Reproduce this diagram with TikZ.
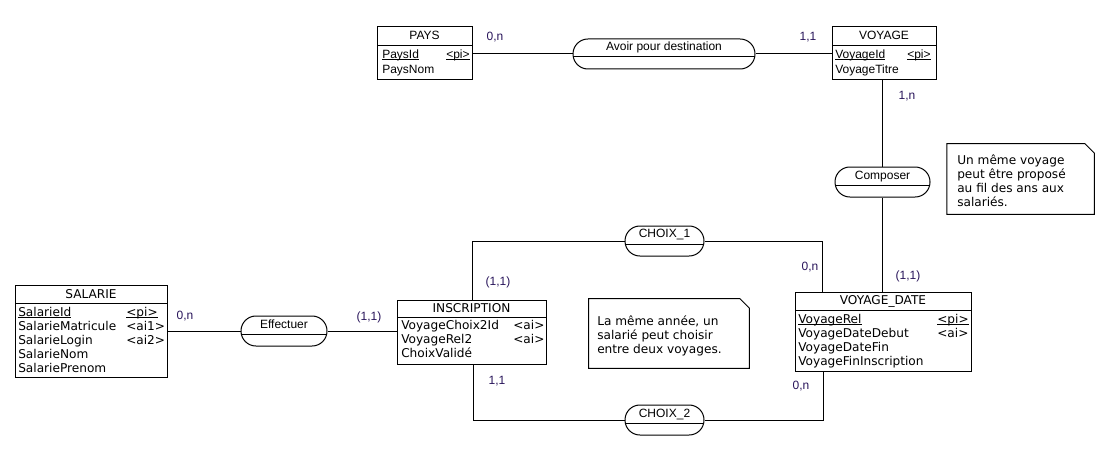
\documentclass[tikz,border=0pt]{standalone}
\usepackage{fontspec}
\setmainfont{Liberation Sans}
\newfontfamily\tah{DejaVu Sans}
\usetikzlibrary{fit}
\definecolor{card}{RGB}{40,20,90}
\newcommand\uln[1]{\setbox0\hbox{#1}\rlap{\rule[-1.4pt]{\wd0}{0.6pt}}\box0}
\tikzset{
  box/.style={draw, inner sep=0pt, line width=0.75pt},
  assoc/.style={draw, inner sep=0pt, line width=0.75pt, rounded corners=11.2pt},
  sep/.style={line width=0.75pt},
  link/.style={line width=0.75pt},
  ari/.style={font=\fontsize{9}{10.5}\selectfont, inner sep=0pt, text height=6.5pt, text depth=1.8pt},
  tho/.style={font=\tah\fontsize{9.1}{10.5}\selectfont, inner sep=0pt, text height=6.5pt, text depth=1.8pt},
  attA/.style={ari, anchor=west},
  attT/.style={tho, anchor=west},
  cardl/.style={ari, text=card},
  notetext/.style={font=\tah\fontsize{9.1}{10.5}\selectfont, inner sep=0pt, align=left, anchor=west},
}
\begin{document}
\begin{tikzpicture}[x=0.75pt,y=-0.75pt]
\useasboundingbox (0,0) rectangle (1119,456);

% ---------- Entities ----------
% PAYS
\node[box, fit={(377,27) (472,80)}] (pays) {};
\draw[sep] (377,46) -- (472,46);
\node[ari] (paysT) at (424.5,36) {PAYS};
\node[attA] (paysA1) at (382,55) {\uln{PaysId}};
\node[attA] (paysA1t) at (446,55) {\uln{<pi>}};
\node[attA] (paysA2) at (382,70) {PaysNom};

% VOYAGE
\node[box, fit={(832,27) (936,80)}] (voyage) {};
\draw[sep] (832,46) -- (936,46);
\node[ari] (voyT) at (884,36) {VOYAGE};
\node[attA] (voyA1) at (835,55) {\uln{VoyageId}};
\node[attA] (voyA1t) at (907,55) {\uln{<pi>}};
\node[attA] (voyA2) at (835,70) {VoyageTitre};

% SALARIE
\node[box, fit={(15,285) (167,377)}] (salarie) {};
\draw[sep] (15,303) -- (167,303);
\node[tho] (salT) at (91,295) {SALARIE};
\node[attT] (salA1) at (18,313) {\uln{SalarieId}};
\node[attT] (salA1t) at (126,313) {\uln{<pi>}};
\node[attT] (salA2) at (18,327) {SalarieMatricule};
\node[attT] (salA2t) at (126,327) {<ai1>};
\node[attT] (salA3) at (18,341) {SalarieLogin};
\node[attT] (salA3t) at (126,341) {<ai2>};
\node[attT] (salA4) at (18,355) {SalarieNom};
\node[attT] (salA5) at (18,369) {SalariePrenom};

% INSCRIPTION
\node[box, fit={(397,300) (546,364)}] (inscription) {};
\draw[sep] (397,317) -- (546,317);
\node[tho] (insT) at (471.5,309) {INSCRIPTION};
\node[attT] (insA1) at (401,326) {VoyageChoix2Id};
\node[attT] (insA1t) at (513,326) {<ai>};
\node[attT] (insA2) at (401,340) {VoyageRel2};
\node[attT] (insA2t) at (513,340) {<ai>};
\node[attT] (insA3) at (401,354) {ChoixValidé};

% VOYAGE_DATE
\node[box, fit={(795,292) (971,371)}] (vdate) {};
\draw[sep] (795,310) -- (971,310);
\node[tho] (vdT) at (883,301) {VOYAGE\_DATE};
\node[attT] (vdA1) at (798,320) {\uln{VoyageRel}};
\node[attT] (vdA1t) at (937,320) {\uln{<pi>}};
\node[attT] (vdA2) at (798,334) {VoyageDateDebut};
\node[attT] (vdA2t) at (937,334) {<ai>};
\node[attT] (vdA3) at (798,348) {VoyageDateFin};
\node[attT] (vdA4) at (798,362) {VoyageFinInscription};

% ---------- Associations ----------
\node[assoc, fit={(573,39) (755,69)}] (avoir) {};
\draw[sep] (573.3,57) -- (754.7,57);
\node[ari] (avoirT) at (664,47) {Avoir pour destination};

\node[assoc, fit={(835,167) (930,197)}] (composer) {};
\draw[sep] (835.3,185) -- (929.7,185);
\node[ari] (composerT) at (882.5,176) {Composer};

\node[assoc, fit={(625,226) (704,256)}] (choix1) {};
\draw[sep] (625.3,244) -- (703.7,244);
\node[ari] (choix1T) at (664.5,234) {CHOIX\_1};

\node[assoc, fit={(625,405) (704,435)}] (choix2) {};
\draw[sep] (625.3,423) -- (703.7,423);
\node[ari] (choix2T) at (664.5,414) {CHOIX\_2};

\node[assoc, fit={(241,316) (327,346)}] (effectuer) {};
\draw[sep] (241.3,334) -- (326.7,334);
\node[ari] (effT) at (284,325) {Effectuer};

% ---------- Links ----------
\draw[link] (pays.east |- avoir.west) -- (avoir.west);
\draw[link] (avoir.east) -- (voyage.west |- avoir.east);
\draw[link] (voyage.south -| composer.north) -- (composer.north);
\draw[link] (composer.south) -- (vdate.north -| composer.south);
\draw[link] (salarie.east |- effectuer.west) -- (effectuer.west);
\draw[link] (effectuer.east) -- (inscription.west |- effectuer.east);
\draw[link] ([xshift=1pt]inscription.north) |- (choix1.west);
\draw[link] (choix1.east) -| ([xshift=21pt]vdate.north west);
\draw[link] ([xshift=1.5pt]inscription.south) |- (choix2.west);
\draw[link] (choix2.east) -| ([xshift=21.5pt]vdate.south west);

% ---------- Cardinalities ----------
\node[cardl] (c1) at (495,37) {0,n};
\node[cardl] (c2) at (808,37) {1,1};
\node[cardl] (c3) at (907,96) {1,n};
\node[cardl] (c4) at (908,276) {(1,1)};
\node[cardl] (c5) at (810,267) {0,n};
\node[cardl] (c6) at (498,282) {(1,1)};
\node[cardl] (c7) at (497,381) {1,1};
\node[cardl] (c8) at (801,386) {0,n};
\node[cardl] (c9) at (185,316) {0,n};
\node[cardl] (c10) at (369,317) {(1,1)};

% ---------- Notes ----------
\node[inner sep=0pt, fit={(947,144) (1094,214)}] (note1) {};
\draw[line width=0.75pt] (note1.north west) -- ([xshift=-7pt]note1.north east) -- ([yshift=-7pt]note1.north east) -- (note1.south east) -- (note1.south west) -- cycle;
\node[notetext] (note1T) at (957,181) {Un même voyage\\peut être proposé\\au fil des ans aux\\salariés.};

\node[inner sep=0pt, fit={(589,299) (749,368)}] (note2) {};
\draw[line width=0.75pt] (note2.north west) -- ([xshift=-7pt]note2.north east) -- ([yshift=-7pt]note2.north east) -- (note2.south east) -- (note2.south west) -- cycle;
\node[notetext] (note2T) at (597,336) {La même année, un\\salarié peut choisir\\entre deux voyages.};
\end{tikzpicture}
\end{document}
